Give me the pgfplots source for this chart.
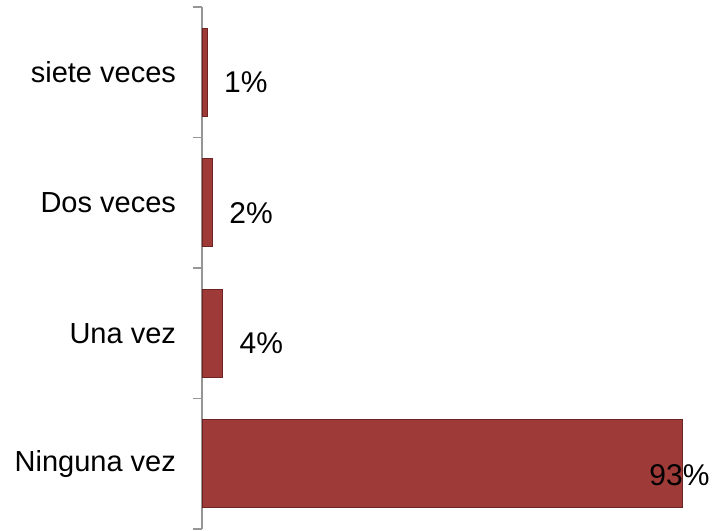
\documentclass[border=0pt]{standalone}
\usepackage{fontspec}
\setmainfont{Liberation Sans}
\usepackage{pgfplots}
\pgfplotsset{compat=1.18}
\definecolor{barred}{RGB}{158,59,57}
\definecolor{bardark}{RGB}{110,36,35}
\definecolor{axgray}{RGB}{150,150,150}

\begin{document}
\begin{tikzpicture}
\begin{axis}[
    name=ax,
    xbar,
    scale only axis,
    width=248pt,
    height=261pt,
    xmin=0, xmax=96,
    ymin=-0.5, ymax=3.5,
    axis x line=none,
    axis y line*=left,
    y axis line style={axgray, line width=0.8pt, -},
    ytick={0,1,2,3},
    yticklabels={Ninguna vez, Una vez, Dos veces, siete veces},
    major tick length=0pt,
    minor ytick={-0.5,0.5,1.5,2.5,3.5},
    minor tick length=4.5pt,
    tick align=outside,
    minor tick style={axgray, line width=0.8pt},
    yticklabel style={font=\fontsize{14.5}{17}\selectfont, xshift=-9.5pt},
    bar width=44pt,
    bar shift=0pt,
    clip=false,
    /pgf/number format/assume math mode=true,
]
\addplot[fill=barred, draw=bardark, line width=0.4pt,
    nodes near coords={\pgfmathprintnumber{\pgfplotspointmeta}\%},
    every node near coord/.append style={font=\fontsize{15}{18}\selectfont, text=black, anchor=west, xshift=5pt, yshift=-5pt}]
    coordinates {(4,1) (2,2) (1,3)};
\addplot[fill=barred, draw=bardark, line width=0.4pt,
    nodes near coords={\pgfmathprintnumber{\pgfplotspointmeta}\%},
    every node near coord/.append style={font=\fontsize{15}{18}\selectfont, text=black, anchor=center, xshift=-1.5pt, yshift=-5.5pt}]
    coordinates {(93,0)};
\end{axis}
\pgfresetboundingbox
\path ([shift={(-101pt,-0.5pt)}]ax.south west) rectangle ++(357.5pt,265pt);
\end{tikzpicture}
\end{document}
